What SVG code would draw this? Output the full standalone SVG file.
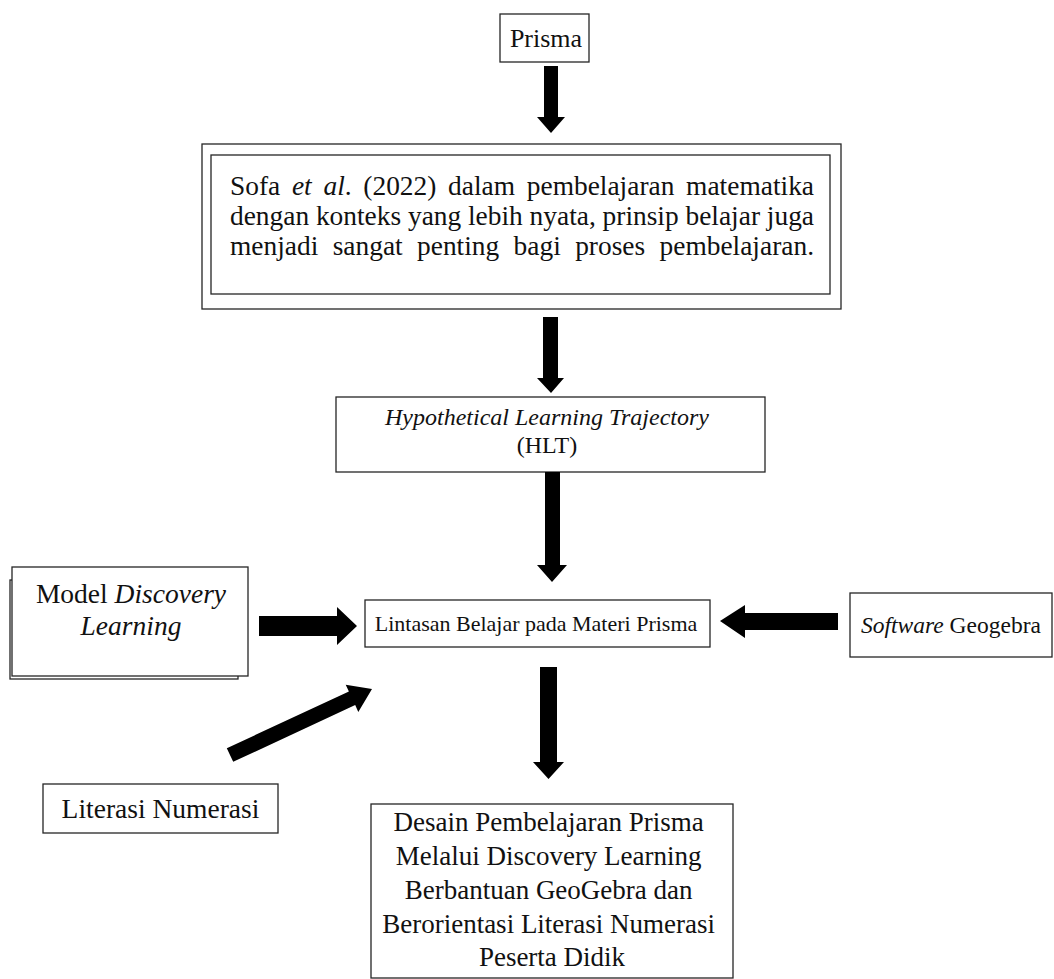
<svg xmlns="http://www.w3.org/2000/svg" width="1054" height="979" viewBox="0 0 1054 979">
<style>
.box{fill:#fff;stroke:#262626;stroke-width:1.3}
.t{font-family:"Liberation Serif","Times New Roman",serif;fill:#111}
.i{font-style:italic}
.arr{fill:#000}
</style>
<rect width="1054" height="979" fill="#fff"/>
<g id="prisma">
<rect class="box" x="500" y="14" width="89" height="48"/>
<text class="t" x="546" y="47" font-size="26" text-anchor="middle">Prisma</text>
</g>
<g id="sofa">
<rect class="box" x="202" y="144" width="639" height="165"/>
<rect class="box" x="211" y="155" width="619" height="139"/>
<text class="t" x="230" y="195" font-size="27.4" word-spacing="4.85" textLength="584" lengthAdjust="spacing">Sofa <tspan class="i">et al</tspan>. (2022) dalam pembelajaran matematika</text>
<text class="t" x="230" y="225" font-size="27.4" textLength="584" lengthAdjust="spacing">dengan konteks yang lebih nyata, prinsip belajar juga</text>
<text class="t" x="230" y="255" font-size="27.4" word-spacing="7.5" textLength="584" lengthAdjust="spacing">menjadi sangat penting bagi proses pembelajaran.</text>
</g>
<g id="hlt">
<rect class="box" x="336" y="397" width="429" height="75"/>
<text class="t i" x="547" y="425" font-size="24" text-anchor="middle">Hypothetical Learning Trajectory</text>
<text class="t" x="547" y="453" font-size="24" text-anchor="middle">(HLT)</text>
</g>
<g id="lintasan">
<rect class="box" x="365" y="600" width="345" height="47"/>
<text class="t" x="536" y="631" font-size="22" text-anchor="middle">Lintasan Belajar pada Materi Prisma</text>
</g>
<g id="model">
<rect class="box" x="10" y="580" width="228" height="99"/>
<rect class="box" x="12" y="567" width="236" height="109"/>
<text class="t" x="131" y="603" font-size="27.5" text-anchor="middle">Model <tspan class="i">Discovery</tspan></text>
<text class="t i" x="131" y="635" font-size="27.5" text-anchor="middle">Learning</text>
</g>
<g id="software">
<rect class="box" x="850" y="593" width="202" height="64"/>
<text class="t" x="861" y="633" font-size="23.5"><tspan class="i">Software</tspan> Geogebra</text>
</g>
<g id="literasi">
<rect class="box" x="43" y="784" width="235" height="49"/>
<text class="t" x="160.5" y="818" font-size="27.5" text-anchor="middle">Literasi Numerasi</text>
</g>
<g id="desain">
<rect class="box" x="371" y="804" width="362" height="174"/>
<text class="t" font-size="27" text-anchor="middle">
<tspan x="552" y="831">Desain Pembelajaran Prisma</tspan>
<tspan x="552" y="865">Melalui Discovery Learning</tspan>
<tspan x="552" y="899">Berbantuan GeoGebra dan</tspan>
<tspan x="552" y="933">Berorientasi Literasi Numerasi</tspan>
<tspan x="552" y="966">Peserta Didik</tspan>
</text>
</g>
<g id="connectors">
<polygon class="arr" points="544,66 558,66 558,117 565,117 551,133 537,117 544,117"/>
<polygon class="arr" points="543,317 558,317 558,378 564,378 551,393 537,378 543,378"/>
<polygon class="arr" points="545,472 560,472 560,565 567,565 552,582 537,565 545,565"/>
<polygon class="arr" points="540,667 557,667 557,762 564,762 548.5,779 533,762 540,762"/>
<polygon class="arr" points="259,616 337,616 337,607 357,626 337,645 337,636 259,636"/>
<polygon class="arr" points="838,613 745,613 745,605 720,621 745,638 745,630 838,630"/>
<polygon class="arr" points="226.8,748.2 348.9,691.5 345.7,684.7 372,689 358.3,711.9 355.2,705.1 233.2,761.8"/>
</g>
</svg>
